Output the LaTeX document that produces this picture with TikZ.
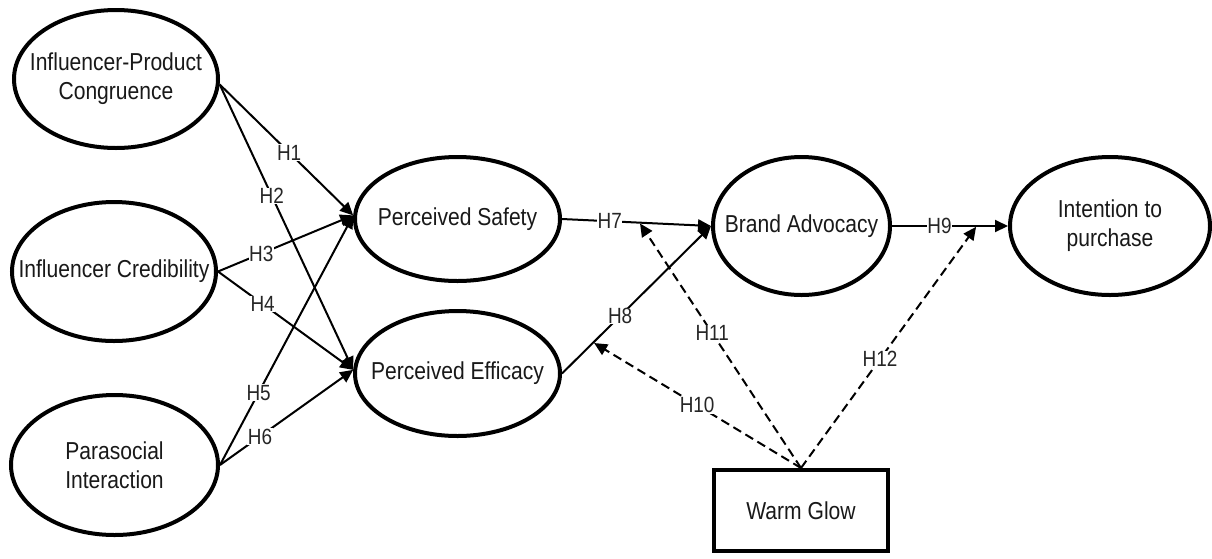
\documentclass[tikz,border=0pt]{standalone}
\usepackage{fontspec}
\setmainfont{Liberation Sans}[FakeStretch=0.86]
\usetikzlibrary{arrows.meta,shapes.geometric}
\begin{document}
\begin{tikzpicture}[x=1pt,y=-1pt,
  lat/.style={ellipse, draw, line width=4pt, inner sep=0pt},
  txt/.style={font=\fontsize{24.5}{29}\selectfont, align=center, inner sep=0pt, text=black!90},
  hyp/.style={font=\fontsize{22}{26}\selectfont, fill=white, inner sep=0.5pt, text=black!85},
  conn/.style={line width=2pt, -{Triangle[length=13pt,width=12pt]}},
  modline/.style={conn, dash pattern=on 9pt off 5pt, shorten >=1pt}
]
\useasboundingbox[fill=white] (0,0) rectangle (1212,558);

% latent constructs
\node[lat, minimum width=204pt, minimum height=138pt] (ipc) at (116,79) {};
\node[txt] (ipct) at (ipc.center) {Influencer-Product\\Congruence};
\node[lat, minimum width=204pt, minimum height=139pt] (ic) at (114,271.5) {};
\node[txt] (ict) at (ic.center) {Influencer Credibility};
\node[lat, minimum width=207pt, minimum height=140pt] (pi) at (114.5,465) {};
\node[txt] (pit) at (pi.center) {Parasocial\\Interaction};
\node[lat, minimum width=205pt, minimum height=124pt] (ps) at (457.5,219) {};
\node[txt] (pst) at (ps.center) {Perceived Safety};
\node[lat, minimum width=205pt, minimum height=125pt] (pe) at (457.5,373.5) {};
\node[txt] (pet) at (pe.center) {Perceived Efficacy};
\node[lat, minimum width=177pt, minimum height=138pt] (ba) at (801.5,226) {};
\node[txt] (bat) at (ba.center) {Brand Advocacy};
\node[lat, minimum width=200pt, minimum height=138pt] (ip) at (1110,226) {};
\node[txt] (ipt) at (ip.center) {Intention to\\purchase};
\node[draw, line width=4pt, minimum width=174pt, minimum height=81pt, inner sep=0pt] (wg) at (801,510.5) {};
\node[txt] (wgt) at (wg.center) {Warm Glow};

% structural paths
\draw[conn] (ipc.-3) -- node[hyp,pos=0.52]{H1} (ps.178);
\draw[conn] (ipc.-3) -- node[hyp,pos=0.39]{H2} (pe.178);
\draw[conn] (ic.east) -- node[hyp,pos=0.32]{H3} (ps.178);
\draw[conn] (ic.east) -- node[hyp,pos=0.33]{H4} (pe.178);
\draw[conn] (pi.east) -- node[hyp,pos=0.29]{H5} (ps.178);
\draw[conn] (pi.east) -- node[hyp,pos=0.30]{H6} (pe.178);
\draw[conn] (ps.east) -- node[hyp,pos=0.32]{H7} coordinate[pos=0.52] (h7m) (ba.west);
\draw[conn] (pe.east) -- node[hyp,pos=0.39]{H8} coordinate[pos=0.21] (h8m) (ba.west);
\draw[conn] (ba.east) -- node[hyp,pos=0.41]{H9} coordinate[pos=0.73] (h9m) (ip.west);

% moderation paths
\draw[modline] (wg.north) -- node[hyp,pos=0.50]{H10} (h8m);
\draw[modline] (wg.north) -- node[hyp,pos=0.55]{H11} (h7m);
\draw[modline] (wg.north) -- node[hyp,pos=0.45]{H12} (h9m);
\end{tikzpicture}
\end{document}
